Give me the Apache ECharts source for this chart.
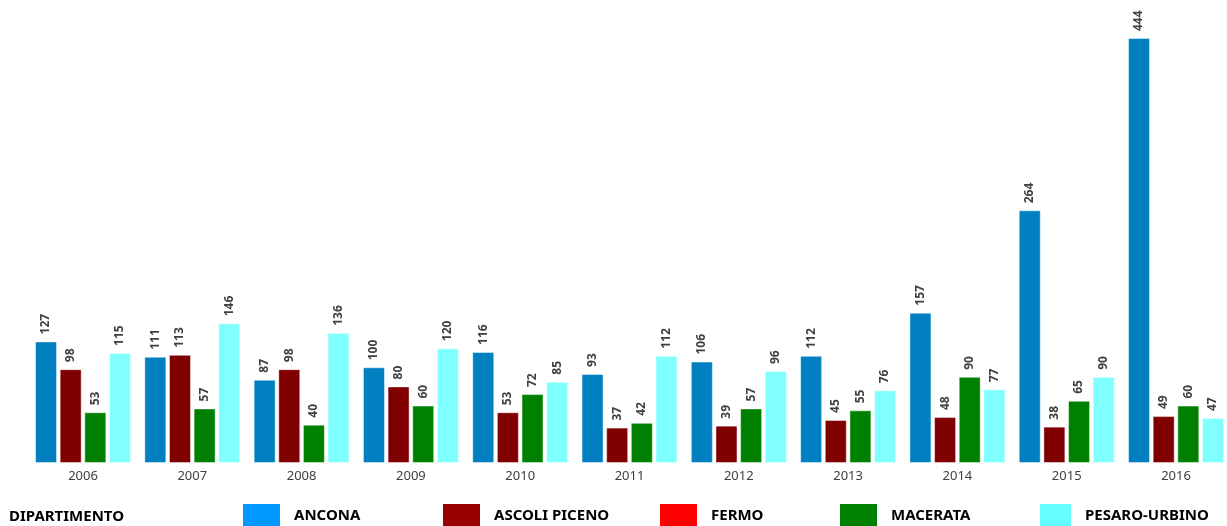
<!DOCTYPE html>
<html><head><meta charset="utf-8">
<script src="https://cdn.jsdelivr.net/npm/echarts@6/dist/echarts.min.js"></script>
<style>html,body{margin:0;padding:0;background:#fff}#c{width:1227px;height:526px}</style>
</head><body><div id="c"></div>
<script>
const years = ['2006','2007','2008','2009','2010','2011','2012','2013','2014','2015','2016'];
const ancona   = [127,111,87,100,116,93,106,112,157,264,444];
const ascoli   = [98,113,98,80,53,37,39,45,48,38,49];
const fermo    = [];
const macerata = [53,57,40,60,72,42,57,55,90,65,60];
const pesaro   = [115,146,136,120,85,112,96,76,77,90,47];
const names = ['ANCONA','ASCOLI PICENO','FERMO','MACERATA','PESARO-URBINO'];
const barColors = ['#0080C0','#800000','#FF0000','#008000','#80FFFF'];
const legendColors = ['#0099FF','#990000','#FF0000','#008000','#66FFFF'];
const legendLeft = [243,443,660,840,1040];
const legendIconW = [37,37,37,37,31];

const FONT = 'Noto Sans';
const label = {
  show:true, position:'top', rotate:90, align:'left', verticalAlign:'middle', distance:7,
  fontFamily:FONT, fontSize:12, fontWeight:'bold', color:'#404040'
};
function bar(name, data, color){
  return {name, type:'bar', data, barWidth:22, barGap:'12%',
    itemStyle:{color, borderColor:'rgba(255,255,255,0.45)', borderWidth:1},
    label, emphasis:{disabled:true}};
}
const chart = echarts.init(document.getElementById('c'));
chart.setOption({
  animation:false,
  textStyle:{fontFamily:FONT},
  title:{text:'DIPARTIMENTO', left:9, top:509, padding:0,
    textStyle:{fontFamily:FONT, fontSize:15, fontWeight:'bold', color:'#000'}},
  legend: names.map((n,i)=>({
    data:[{name:n, icon:'rect', itemStyle:{color:legendColors[i], borderWidth:0}}],
    left:legendLeft[i], top:504, itemWidth:legendIconW[i], itemHeight:24, padding:0,
    selectedMode:false,
    textStyle:{fontFamily:FONT, fontSize:15, fontWeight:'bold', color:'#000', padding:[0,0,0,9]}
  })),
  grid:{left:28.35, width:1202.3, top:38, height:425, containLabel:false, outerBoundsMode:'none'},
  xAxis:{type:'category', data:years, axisLine:{show:false}, axisTick:{show:false},
    axisLabel:{fontFamily:FONT, fontSize:13, color:'#404040', margin:7}},
  yAxis:{type:'value', min:0, max:444, show:false, splitLine:{show:false}},
  series:[
    bar(names[0], ancona, barColors[0]),
    bar(names[1], ascoli, barColors[1]),
    {name:names[2], type:'line', data:fermo, itemStyle:{color:barColors[2]}},
    bar(names[3], macerata, barColors[3]),
    bar(names[4], pesaro, barColors[4])
  ]
});
</script></body></html>
